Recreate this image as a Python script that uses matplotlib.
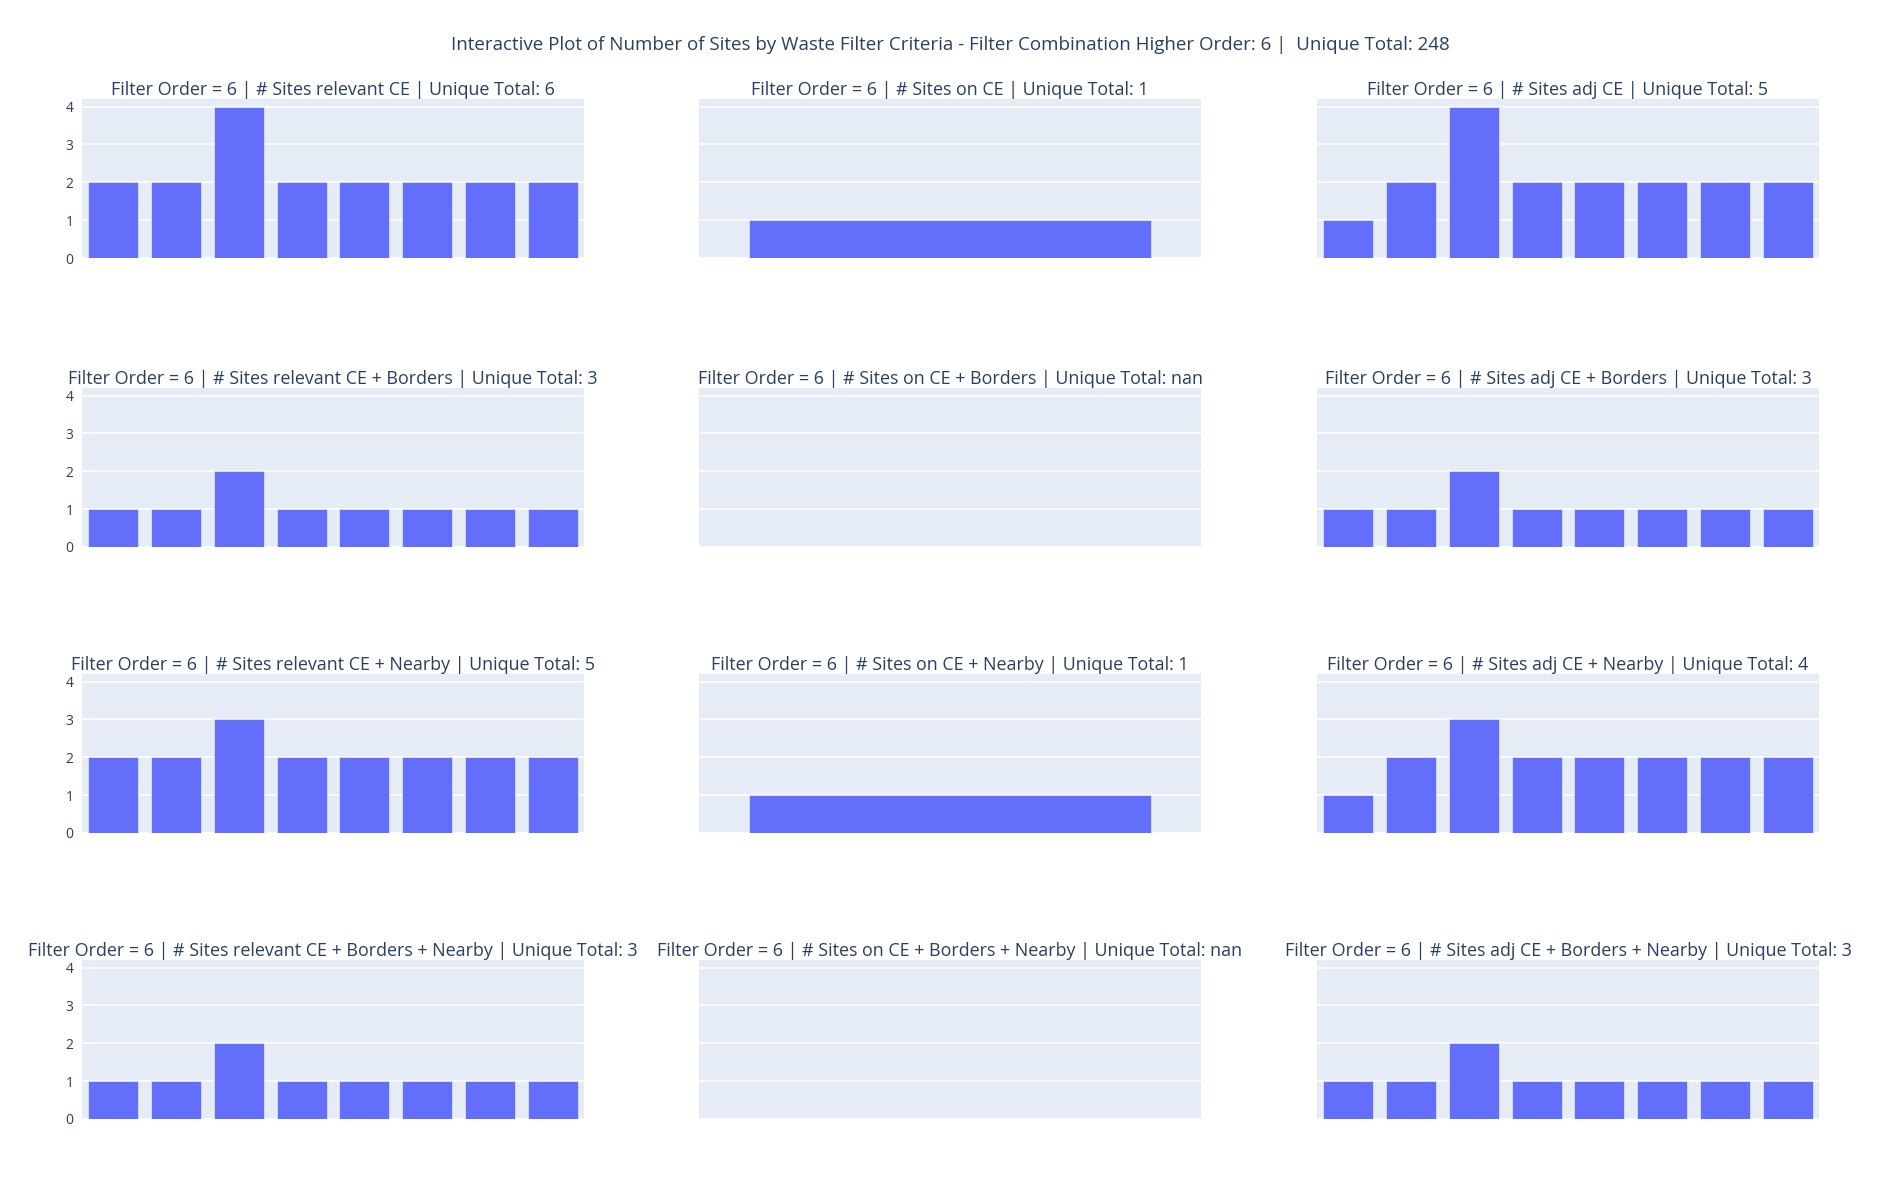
import matplotlib
matplotlib.use("Agg")
import matplotlib.pyplot as plt
import numpy as np

plt.rcParams['font.family'] = ['Open Sans', 'DejaVu Sans']

# waste filter criteria (rows) and site groups (columns)
criteria = ["", " + Borders", " + Nearby", " + Borders + Nearby"]
groups = ["relevant CE", "on CE", "adj CE"]

relevant_ce = [[2, 2, 4, 2, 2, 2, 2, 2],
               [1, 1, 2, 1, 1, 1, 1, 1],
               [2, 2, 3, 2, 2, 2, 2, 2],
               [1, 1, 2, 1, 1, 1, 1, 1]]
on_ce = [[1], [], [1], []]
adj_ce = [[1, 2, 4, 2, 2, 2, 2, 2],
          [1, 1, 2, 1, 1, 1, 1, 1],
          [1, 2, 3, 2, 2, 2, 2, 2],
          [1, 1, 2, 1, 1, 1, 1, 1]]

unique_totals = [["6", "1", "5"],
                 ["3", "nan", "3"],
                 ["5", "1", "4"],
                 ["3", "nan", "3"]]

filter_order = 6
overall_total = 248

BAR = "#636EFA"
BG = "#E5ECF6"
TXT = "#2a3f5f"

W, H = 1900, 1200
fig = plt.figure(figsize=(W / 100, H / 100), dpi=100)

col_left = [82, 699, 1317]
col_w = 502
row_top = [99, 388, 674, 960]
row_h = 159
ymax = 4 * 1.05

series = [relevant_ce, on_ce, adj_ce]

for r in range(4):
    for c in range(3):
        ax = fig.add_axes([col_left[c] / W, 1 - (row_top[r] + row_h) / H,
                           col_w / W, row_h / H])
        ax.set_facecolor(BG)
        vals = series[c][r]
        n = max(len(vals), 1)
        if vals:
            ax.bar(np.arange(len(vals)), vals, width=0.8, color=BAR,
                   edgecolor=BG, linewidth=0.5, zorder=3)
        ax.set_xlim(-0.5, n - 0.5)
        ax.set_ylim(0, ymax)
        ax.set_yticks([0, 1, 2, 3, 4])
        ax.grid(axis="y", color="white", linewidth=1.1, zorder=0)
        ax.set_axisbelow(True)
        ax.set_xticks([])
        for s in ax.spines.values():
            s.set_visible(False)
        ax.tick_params(axis="y", length=0, pad=6, labelsize=10, labelcolor=TXT)
        if c != 0:
            ax.set_yticklabels([])
        ax.set_title(f"Filter Order = {filter_order} | # Sites {groups[c]}{criteria[r]}"
                     f" | Unique Total: {unique_totals[r][c]}",
                     fontsize=12.9, color=TXT, pad=3)

fig.suptitle(f"Interactive Plot of Number of Sites by Waste Filter Criteria - "
             f"Filter Combination Higher Order: {filter_order} |  Unique Total: {overall_total}",
             x=0.5, y=1 - 45 / H, va="center", fontsize=13.5, color=TXT)

fig.savefig("out.png", dpi=100, facecolor="white")
